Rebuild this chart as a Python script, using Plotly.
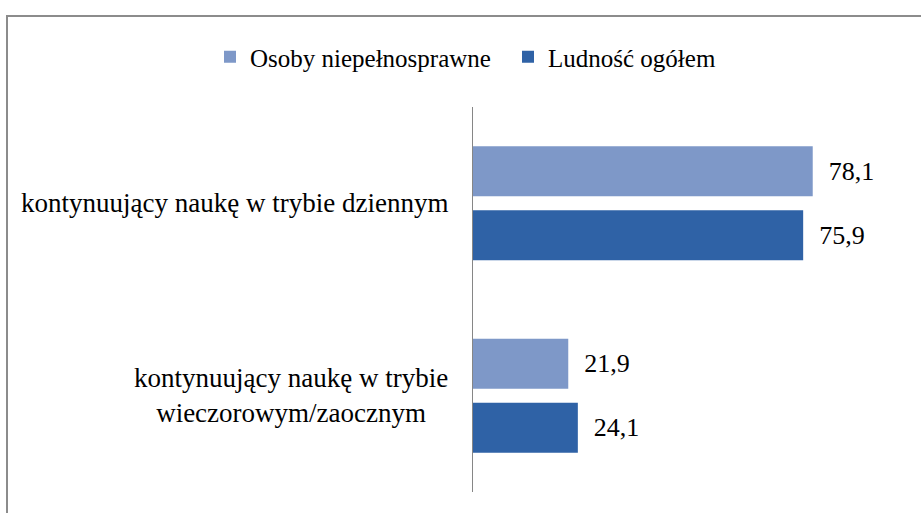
import plotly.graph_objects as go

categories = ["kontynuujący naukę w trybie dziennym",
              "kontynuujący naukę w trybie<br>wieczorowym/zaocznym"]
series_names = ["Osoby niepełnosprawne", "Ludność ogółem"]
osoby = [78.1, 21.9]
ludnosc = [75.9, 24.1]
colors = ["#7E98C8", "#2F62A6"]

FONT = "'Times New Roman', 'Liberation Serif', 'DejaVu Serif', serif"
W, H = 921, 513
L, R, T, B = 473, 908, 107, 492

def fmt(v):
    return f"{v:.1f}".replace(".", ",")

fig = go.Figure()
for i, (name, vals, col) in enumerate(zip(series_names, [osoby, ludnosc], colors)):
    fig.add_trace(go.Bar(
        y=categories, x=vals, orientation="h", name=name,
        legend="legend" if i == 0 else "legend2",
        marker=dict(color=col, line=dict(width=0)),
        text=[fmt(v) for v in vals], texttemplate="  %{text}",
        textposition="outside", cliponaxis=False,
        textfont=dict(family=FONT, size=26, color="black"),
    ))

for c in categories:
    fig.add_annotation(x=0, y=c, xref="paper", yref="y", xshift=-23,
                       xanchor="right", yanchor="middle", align="center",
                       text=c, showarrow=False,
                       font=dict(family=FONT, size=27, color="black"))

pw, ph = R - L, B - T
def px(x): return (x - L) / pw
def py(y): return (B - y) / ph

fig.add_shape(type="rect", xref="paper", yref="paper",
              x0=px(7), x1=px(W + 40), y0=py(W), y1=py(16),
              line=dict(color="#8C8C8C", width=2), layer="below")

leg_common = dict(orientation="h", xref="container", yref="container",
                  y=1 - 57 / H, xanchor="left", yanchor="middle",
                  bgcolor="rgba(0,0,0,0)",
                  font=dict(family=FONT, size=25, color="black"),
                  itemwidth=30)

fig.update_layout(
    width=W, height=H,
    margin=dict(l=L, r=W - R, t=T, b=H - B),
    paper_bgcolor="white", plot_bgcolor="white",
    barmode="group", bargap=0.335, bargroupgap=0.22,
    showlegend=True,
    legend=dict(x=210 / W, **leg_common),
    legend2=dict(x=508 / W, **leg_common),
    xaxis=dict(range=[0, 100], showgrid=False, zeroline=False,
               showticklabels=False, showline=False, ticks=""),
    yaxis=dict(autorange="reversed", showgrid=False, zeroline=False,
               showticklabels=False, showline=True, linecolor="#868686",
               linewidth=1, ticks=""),
    font=dict(family=FONT),
)

fig.write_html("out.html", config={"displayModeBar": False},
               post_script="document.body.style.margin='0';document.body.style.overflow='hidden';")
